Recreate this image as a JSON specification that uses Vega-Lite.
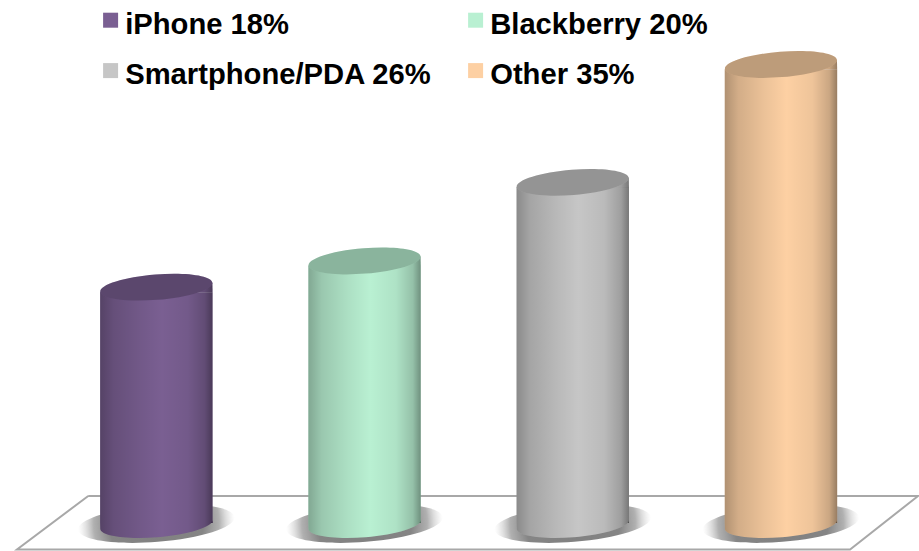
{
  "$schema": "https://vega.github.io/schema/vega-lite/v6.json",
  "width": 919,
  "height": 551,
  "padding": 0,
  "autosize": {"type": "none"},
  "background": "white",
  "config": {"view": {"stroke": null}},
  "datasets": {
    "shares": [
      {"label": "iPhone 18%", "share": 18},
      {"label": "Blackberry 20%", "share": 20},
      {"label": "Smartphone/PDA 26%", "share": 26},
      {"label": "Other 35%", "share": 35}
    ],
    "floor": [
      {"order": 1, "fx": 9.6, "fy": 2.06},
      {"order": 2, "fx": 99.9, "fy": 2.06},
      {"order": 3, "fx": 92.5, "fy": -2.02},
      {"order": 4, "fx": 1.85, "fy": -2.02},
      {"order": 5, "fx": 9.6, "fy": 2.06}
    ]
  },
  "resolve": {"scale": {"x": "independent"}},
  "layer": [
    {
      "data": {"name": "floor"},
      "mark": {"type": "line", "color": "#a8a8a8", "strokeWidth": 2, "clip": false},
      "encoding": {
        "x": {"field": "fx", "type": "quantitative", "axis": null, "scale": {"domain": [0, 100], "nice": false, "zero": false}},
        "y": {"field": "fy", "type": "quantitative", "axis": null, "scale": {"domain": [-2.14, 39.92], "nice": false, "zero": false}},
        "order": {"field": "order"}
      }
    },
    {
      "data": {"name": "shares"},
      "encoding": {
        "x": {"field": "label", "type": "nominal", "sort": null, "axis": null, "scale": {"type": "band", "range": [18.3, 919], "paddingInner": 0.46, "paddingOuter": 0.393}}
      },
      "layer": [
        {
          "mark": {"type": "point", "filled": true, "opacity": 1, "size": 24600, "angle": -4.6, "yOffset": 0.5, "shape": "M1,0C1,0.13 0.5523,0.235 0,0.235C-0.5523,0.235 -1,0.13 -1,0C-1,-0.13 -0.5523,-0.235 0,-0.235C0.5523,-0.235 1,-0.13 1,0Z",
            "fill": {"gradient": "radial", "x1": 0.5, "y1": 0.5, "r1": 0, "x2": 0.5, "y2": 0.5, "r2": 0.5, "stops": [{"offset": 0, "color": "#808080"}, {"offset": 0.6, "color": "#858585"}, {"offset": 0.8, "color": "rgba(150,150,150,0.75)"}, {"offset": 1, "color": "rgba(200,200,200,0)"}]}},
          "encoding": {"y": {"datum": 0, "type": "quantitative", "axis": null}}
        },
        {
          "mark": {"type": "bar", "yOffset": 5},
          "encoding": {
            "y": {"field": "share", "type": "quantitative", "stack": null, "axis": null},
            "color": {
              "field": "label", "type": "nominal", "sort": null,
              "scale": {"domain": ["iPhone 18%", "Blackberry 20%", "Smartphone/PDA 26%", "Other 35%"], "range": ["#7a5f92", "#b9f0d2", "#c6c6c6", "#fdd0a3"]},
              "legend": {
                "title": null, "orient": "none", "direction": "horizontal", "columns": 2,
                "legendX": 96, "legendY": 10, "padding": 0,
                "symbolType": "M-1,-1.6L1,-1.6L1,0.4L-1,0.4Z", "symbolSize": 225, "symbolStrokeWidth": 0,
                "labelFont": "Liberation Sans", "labelFontWeight": "bold", "labelFontSize": 29.2, "labelColor": "#000000", "labelOffset": 0, "labelLimit": 400,
                "columnPadding": 29, "rowPadding": 20.5
              }
            }
          }
        },
        {
          "mark": {"type": "point", "filled": true, "opacity": 1, "size": 12634, "yOffset": 1.5, "shape": "M-1,-0.027L-0.9968,0.0802C-0.9868,0.2046 -0.5324,0.2696 0.0181,0.2253C0.5686,0.181 1.0068,0.0442 0.9968,-0.0802L1,-0.027Z"},
          "encoding": {
            "y": {"datum": 0, "type": "quantitative", "axis": null},
            "color": {"field": "label", "type": "nominal", "sort": null}
          }
        },
        {
          "mark": {"type": "point", "filled": true, "opacity": 1, "size": 12634, "shape": "M-0.9968,0.0802L0.9968,-0.0802L1,0.09L-1,0.09Z"},
          "encoding": {
            "y": {"field": "share", "type": "quantitative", "axis": null},
            "color": {"field": "label", "type": "nominal", "sort": null}
          }
        },
        {
          "mark": {"type": "bar", "yOffset": 5,
            "fill": {"gradient": "linear", "x1": 0, "y1": 0, "x2": 1, "y2": 0, "stops": [{"offset": 0, "color": "rgba(0,0,0,0.3)"}, {"offset": 0.12, "color": "rgba(0,0,0,0.17)"}, {"offset": 0.35, "color": "rgba(0,0,0,0.07)"}, {"offset": 0.55, "color": "rgba(0,0,0,0)"}, {"offset": 0.78, "color": "rgba(0,0,0,0.06)"}, {"offset": 0.93, "color": "rgba(0,0,0,0.2)"}, {"offset": 1, "color": "rgba(0,0,0,0.4)"}]}},
          "encoding": {"y": {"field": "share", "type": "quantitative", "stack": null, "axis": null}}
        },
        {
          "mark": {"type": "point", "filled": true, "opacity": 1, "size": 12634, "yOffset": 1.5, "shape": "M-1,-0.027L-0.9968,0.0802C-0.9868,0.2046 -0.5324,0.2696 0.0181,0.2253C0.5686,0.181 1.0068,0.0442 0.9968,-0.0802L1,-0.027Z",
            "fill": {"gradient": "linear", "x1": 0, "y1": 0, "x2": 1, "y2": 0, "stops": [{"offset": 0, "color": "rgba(0,0,0,0.3)"}, {"offset": 0.12, "color": "rgba(0,0,0,0.17)"}, {"offset": 0.35, "color": "rgba(0,0,0,0.07)"}, {"offset": 0.55, "color": "rgba(0,0,0,0)"}, {"offset": 0.78, "color": "rgba(0,0,0,0.06)"}, {"offset": 0.93, "color": "rgba(0,0,0,0.2)"}, {"offset": 1, "color": "rgba(0,0,0,0.4)"}]}},
          "encoding": {"y": {"datum": 0, "type": "quantitative", "axis": null}}
        },
        {
          "mark": {"type": "point", "filled": true, "opacity": 1, "size": 12634, "shape": "M-0.9968,0.0802L0.9968,-0.0802L1,0.09L-1,0.09Z",
            "fill": {"gradient": "linear", "x1": 0, "y1": 0, "x2": 1, "y2": 0, "stops": [{"offset": 0, "color": "rgba(0,0,0,0.3)"}, {"offset": 0.12, "color": "rgba(0,0,0,0.17)"}, {"offset": 0.35, "color": "rgba(0,0,0,0.07)"}, {"offset": 0.55, "color": "rgba(0,0,0,0)"}, {"offset": 0.78, "color": "rgba(0,0,0,0.06)"}, {"offset": 0.93, "color": "rgba(0,0,0,0.2)"}, {"offset": 1, "color": "rgba(0,0,0,0.4)"}]}},
          "encoding": {"y": {"field": "share", "type": "quantitative", "axis": null}}
        },
        {
          "mark": {"type": "point", "filled": true, "opacity": 1, "size": 12634, "shape": "M0.9968,-0.0802C1.0068,0.0442 0.5686,0.181 0.0181,0.2253C-0.5324,0.2696 -0.9868,0.2046 -0.9968,0.0802C-1.0068,-0.0442 -0.5686,-0.181 -0.0181,-0.2253C0.5324,-0.2696 0.9868,-0.2046 0.9968,-0.0802Z"},
          "encoding": {
            "y": {"field": "share", "type": "quantitative", "axis": null},
            "color": {"field": "label", "type": "nominal", "sort": null}
          }
        },
        {
          "mark": {"type": "point", "filled": true, "opacity": 0.25, "fill": "#000000", "size": 12634, "shape": "M0.9968,-0.0802C1.0068,0.0442 0.5686,0.181 0.0181,0.2253C-0.5324,0.2696 -0.9868,0.2046 -0.9968,0.0802C-1.0068,-0.0442 -0.5686,-0.181 -0.0181,-0.2253C0.5324,-0.2696 0.9868,-0.2046 0.9968,-0.0802Z"},
          "encoding": {"y": {"field": "share", "type": "quantitative", "axis": null}}
        }
      ]
    }
  ]
}
